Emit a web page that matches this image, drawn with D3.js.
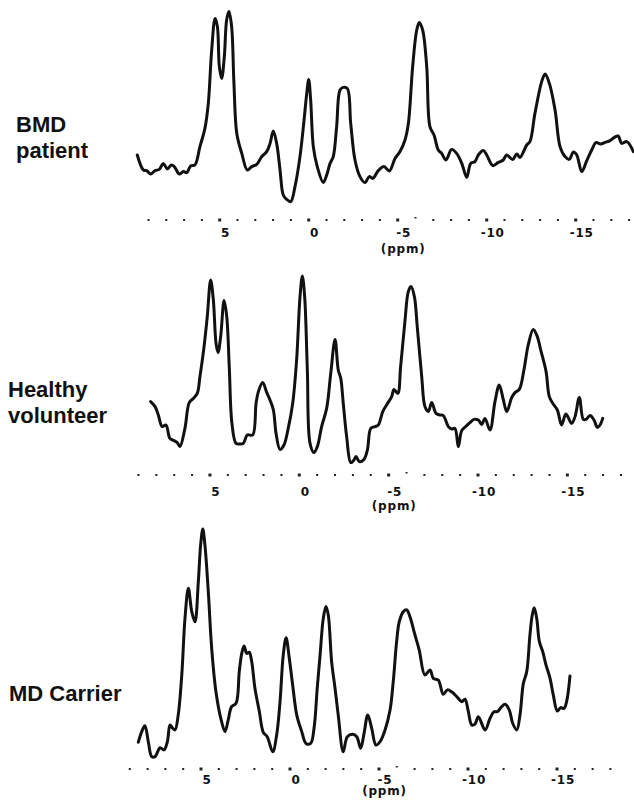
<!DOCTYPE html>
<html><head><meta charset="utf-8">
<script src="https://cdn.jsdelivr.net/npm/d3@7"></script>
<style>html,body{margin:0;padding:0;background:#fff}svg{display:block}</style>
</head><body>
<script>
// ---------- DATA ----------
const dotTicks = [9,8,7,6,5,4,3,2,1,0,-1,-2,-3,-4,-5,-6,-7,-8,-9,-10,-11,-12,-13,-14,-15,-16,-17,-18];
const majorTicks = [5,0,-5,-10,-15];
const raisedTick = -6;
const axisTitle = "(ppm)";

const bmdLabel = ["BMD","patient"];
const bmdPpm = [9.63,9.29,9.10,8.88,8.63,8.39,8.17,7.94,7.72,7.55,7.27,7.04,6.85,6.63,6.39,6.11,5.83,5.64,5.45,5.26,5.13,5.02,4.89,4.74,4.61,4.48,4.33,4.20,4.04,3.76,3.45,3.20,2.92,2.64,2.36,2.17,1.99,1.80,1.61,1.43,1.24,1.01,0.77,0.49,0.26,0.11,0.00,-0.11,-0.26,-0.48,-0.82,-1.01,-1.20,-1.38,-1.57,-1.76,-1.94,-2.17,-2.36,-2.60,-2.88,-3.16,-3.40,-3.60,-3.91,-4.23,-4.53,-4.85,-5.13,-5.41,-5.60,-5.84,-6.07,-6.21,-6.40,-6.63,-6.81,-7.04,-7.28,-7.47,-7.71,-8.03,-8.31,-8.60,-8.88,-9.10,-9.34,-9.53,-9.81,-10.00,-10.34,-10.65,-10.93,-11.12,-11.46,-11.69,-11.87,-12.25,-12.43,-12.71,-13.09,-13.28,-13.52,-13.84,-14.12,-14.40,-14.64,-14.87,-15.06,-15.34,-15.62,-15.90,-16.14,-16.40,-16.65,-16.93,-17.15,-17.39,-17.58,-17.87,-18.24];
const bmdInt = [27.5,20,19.7,18,19.7,20.3,23.3,20.5,22.5,21.7,18,19.2,18.7,22,22.5,31.7,40.8,53.3,80,95.8,91.7,71.7,65.8,76.7,95,99.2,91.7,63.3,38.3,28.3,20,21.7,22.8,26.7,29.2,33.3,39.5,33.3,20,7.5,5.3,4.2,11.7,26.7,45,58.3,65.3,55,31.7,21.7,13.7,17.5,23.3,26.7,41.7,60,61.3,60.8,43.3,25,16.7,13.7,16.7,15.8,19.7,21.7,19.5,25.8,29.2,35,43.3,71.7,90,93.7,90,71.7,41.7,37.5,30,28.3,25,30.3,28.3,23.3,16.3,23.3,24.2,27.5,29.7,27.5,22.2,23.8,25,27.5,25.3,28,26.3,32.5,34.2,48.3,64.2,68,63.3,50,31.7,26.7,25.3,29,27.5,19.2,24.7,30,33.7,33,33.8,34.7,36.2,37,33.3,34.2,29.2];

const healthyLabel = ["Healthy","volunteer"];
const healthyPpm = [8.32,8.07,7.89,7.67,7.46,7.24,7.01,6.83,6.68,6.40,6.16,5.93,5.71,5.56,5.33,5.15,4.96,4.81,4.66,4.55,4.40,4.21,4.06,3.92,3.77,3.54,3.32,3.13,2.91,2.61,2.42,2.29,2.05,1.82,1.64,1.45,1.30,1.08,0.86,0.62,0.37,0.15,-0.04,-0.17,-0.30,-0.45,-0.60,-0.82,-1.01,-1.25,-1.53,-1.76,-2.00,-2.18,-2.32,-2.46,-2.65,-2.88,-3.06,-3.17,-3.36,-3.62,-3.81,-4.00,-4.24,-4.42,-4.67,-4.92,-5.17,-5.30,-5.51,-5.67,-5.91,-6.10,-6.25,-6.44,-6.60,-6.85,-7.03,-7.22,-7.41,-7.65,-7.87,-8.06,-8.34,-8.53,-8.71,-8.90,-9.09,-9.37,-9.55,-9.78,-10.02,-10.21,-10.39,-10.67,-10.95,-11.19,-11.42,-11.61,-11.89,-12.07,-12.31,-12.57,-12.81,-13.09,-13.32,-13.51,-13.81,-13.99,-14.21,-14.44,-14.68,-14.92,-15.24,-15.43,-15.67,-15.89,-16.04,-16.27,-16.49,-16.68,-16.83,-16.98];
const healthyInt = [34.2,31.7,27.5,21.7,22.5,15.8,14.7,13.7,11.7,20.8,33.7,35.8,38.3,46.7,61.7,76.7,95,85,63.3,58.7,66.7,84.7,76.7,51.7,23.3,13.3,13,13.3,17.5,17.5,33.3,39.2,43.7,38.7,35,30,18.3,10.3,12.5,20.8,33.3,55,86.7,97,86.7,50,13.3,8.7,11.7,21.7,30.8,48.3,65.3,50,45.8,33.3,16.7,3.7,5,6.7,4.2,5.3,10,20.8,21.7,22.5,29.2,33,36.7,40.3,38.3,51.7,74.2,89.2,91.7,86.7,71.7,46.7,31.7,29.2,33.7,28.3,27.5,27.2,21.7,20.5,20.8,11.7,19.7,22.2,23.7,25.3,25,22.8,25.8,20,34.2,42.5,35,29.2,36.3,38.7,40.3,50,62.5,70.3,66.7,60,49.2,36.7,33,30,22.5,28,23.3,26.7,36.3,25.3,25.3,27.2,25,21.3,22.5,25.8];

const carrierLabel = ["MD Carrier"];
const carrierPpm = [8.52,8.33,8.15,7.96,7.77,7.58,7.30,7.08,6.89,6.74,6.59,6.46,6.28,6.08,5.90,5.71,5.52,5.34,5.15,5.02,4.90,4.78,4.59,4.40,4.16,3.89,3.65,3.47,3.28,3.03,2.85,2.71,2.58,2.43,2.29,2.15,1.97,1.72,1.50,1.28,0.97,0.75,0.56,0.38,0.22,0.04,-0.15,-0.38,-0.66,-0.90,-1.16,-1.35,-1.53,-1.69,-1.87,-2.02,-2.15,-2.34,-2.53,-2.71,-2.99,-3.22,-3.52,-3.75,-3.97,-4.16,-4.37,-4.59,-4.83,-5.06,-5.34,-5.62,-5.80,-5.99,-6.14,-6.37,-6.56,-6.74,-7.02,-7.26,-7.58,-7.87,-8.05,-8.33,-8.61,-8.84,-9.08,-9.37,-9.65,-9.83,-10.02,-10.21,-10.39,-10.58,-10.96,-11.24,-11.46,-11.65,-11.89,-12.08,-12.32,-12.51,-12.74,-12.92,-13.11,-13.30,-13.48,-13.61,-13.72,-13.86,-14.01,-14.20,-14.38,-14.61,-14.79,-15.02,-15.21,-15.39,-15.54,-15.73];
const carrierInt = [9.5,13.9,16.4,9.7,3.5,3.5,7.2,6.3,9.7,16.7,15.3,14.6,20.8,37.5,61.1,73.6,63.9,59.7,76.4,91.7,98.3,91.7,72.2,48.6,30.5,19.5,13.9,18.8,24.3,25.7,38.9,46.5,49.6,46.5,47.0,43.0,32.0,22.2,13.6,11.8,5.5,12.5,26.4,45.8,53.0,44.5,33.3,20.8,13.9,9.0,9.0,15.3,32.0,45.8,61.1,66.0,62.5,43.0,32.0,20.8,5.5,11.8,12.8,11.8,7.0,13.2,20.8,15.3,8.3,9.7,14.6,22.9,34.7,51.4,59.7,63.9,64.6,61.8,54.2,47.9,37.5,39.6,36.1,35.4,29.5,31.3,30.5,28.5,26.4,27.4,22.2,16.7,17.0,20.1,14.6,19.5,22.2,22.2,24.3,25.3,22.9,17.4,14.6,20.8,34.0,38.9,54.2,62.5,65.5,61.1,51.4,47.2,41.7,36.1,29.2,22.5,23.9,23.6,26.4,37.1];

// ---------- LAYOUT ----------
const W = 634, H = 802;
const panels = [
  {label: bmdLabel, ppm: bmdPpm, val: bmdInt, zero: 308.7, step: 17.8, yBot: 210, yTop: 10, axisY: 220, tickBase: 237, titleBase: 252.5, lx: 16, ly: 131.7, lh: 26.5},
  {label: healthyLabel, ppm: healthyPpm, val: healthyInt, zero: 299.3, step: 17.87, yBot: 470, yTop: 270, axisY: 475, tickBase: 495.7, titleBase: 509.5, lx: 8, ly: 397.3, lh: 26},
  {label: carrierLabel, ppm: carrierPpm, val: carrierInt, zero: 290, step: 17.8, yBot: 765, yTop: 525, axisY: 769, tickBase: 784, titleBase: 795, lx: 9, ly: 700.7, lh: 26}
];
const tickFont = "'DejaVu Sans', Verdana, sans-serif";
const tickSize = 12;

const svg = d3.select("body").append("svg").attr("width", W).attr("height", H);

panels.forEach(p => {
  const x = d3.scaleLinear().domain([0, -10]).range([p.zero, p.zero + 10 * p.step]);
  const y = d3.scaleLinear().domain([0, 100]).range([p.yBot, p.yTop]);
  const g = svg.append("g");

  // panel label
  const t = g.append("text")
    .attr("font-family", "'Liberation Sans', Arial, Helvetica, sans-serif")
    .attr("font-weight", "bold").attr("font-size", 22).attr("fill", "#111");
  p.label.forEach((s, i) => {
    t.append("tspan").attr("x", p.lx).attr("y", p.ly + i * p.lh).text(s);
  });

  // spectrum
  const pts = p.ppm.map((v, i) => [v, p.val[i]]);
  g.append("path").datum(pts)
    .attr("fill", "none").attr("stroke", "#111").attr("stroke-width", 3)
    .attr("stroke-linejoin", "round").attr("stroke-linecap", "round")
    .attr("d", d3.line().x(d => x(d[0])).y(d => y(d[1])).curve(d3.curveCatmullRom.alpha(0.5)));

  // dotted axis
  g.selectAll("rect.dot").data(dotTicks).join("rect")
    .attr("class", "dot")
    .attr("x", d => x(d) - (majorTicks.includes(d) ? 1.5 : 1))
    .attr("y", d => p.axisY - (majorTicks.includes(d) ? 1.5 : 1) - (d === raisedTick ? 2 : 0))
    .attr("width", d => majorTicks.includes(d) ? 3 : 2)
    .attr("height", d => majorTicks.includes(d) ? 3 : (d === raisedTick ? 1.5 : 2))
    .attr("fill", "#222");

  // tick labels via d3 axis
  const ax = d3.axisBottom(x).tickValues(majorTicks).tickSize(0).tickPadding(0)
    .tickFormat(d => d3.format("d")(d).replace("\u2212", "-"));
  const axg = g.append("g").attr("transform", `translate(5.5,${p.tickBase})`).call(ax);
  axg.select(".domain").remove();
  axg.selectAll("text")
    .attr("dy", 0)
    .attr("font-family", tickFont).attr("letter-spacing", 0.8)
    .attr("font-weight", "bold").attr("font-size", tickSize).attr("fill", "#111");

  g.append("text").attr("x", x(-5) + 5.5).attr("y", p.titleBase)
    .attr("text-anchor", "middle").attr("letter-spacing", 0.8)
    .attr("font-family", tickFont)
    .attr("font-weight", "bold").attr("font-size", tickSize).attr("fill", "#111")
    .text(axisTitle);
});
</script>
</body></html>
